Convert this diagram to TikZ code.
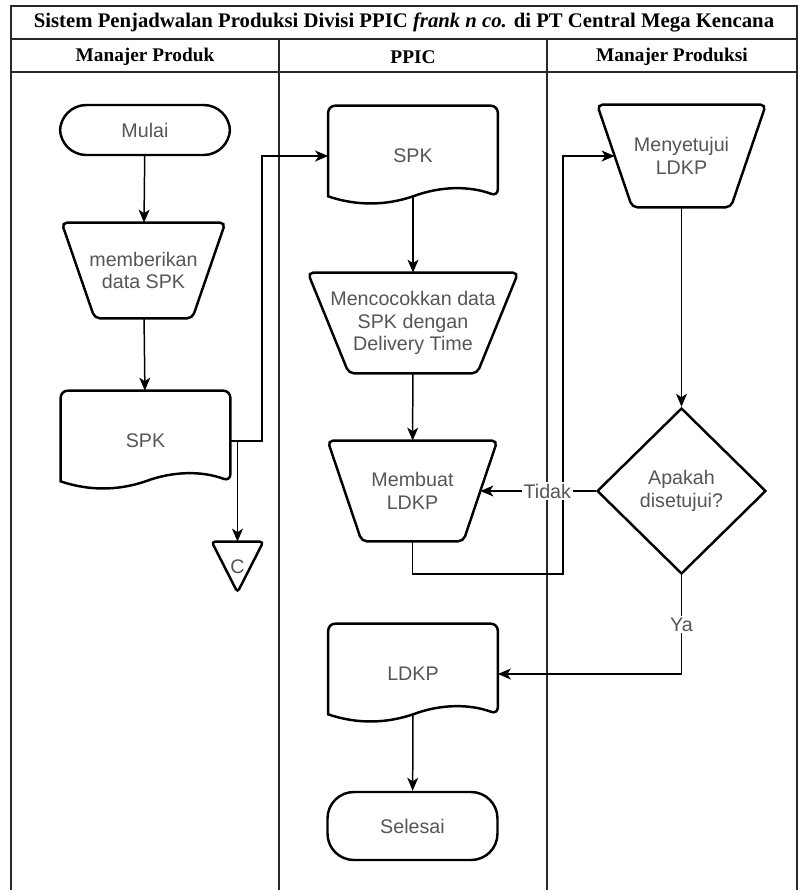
\documentclass[tikz,border=0pt]{standalone}
\usepackage{fontspec}
\setmainfont{Liberation Sans}
\newfontfamily\headfont{Liberation Serif}
\usetikzlibrary{arrows.meta,shapes.geometric,calc}

\definecolor{labelgray}{RGB}{85,85,85}
\definecolor{framegray}{RGB}{40,40,40}

\tikzset{
  lane/.style={draw=framegray, line width=0.8pt},
  headtext/.style={font=\headfont\bfseries\fontsize{11}{13}\selectfont, inner sep=0pt},
  bodytext/.style={text=labelgray, font=\fontsize{11.2}{12.8}\selectfont, align=center, inner sep=1pt},
  shapeline/.style={draw=black, line width=1.4pt},
  terminal/.style={bodytext, shapeline, rounded corners=15pt,
    minimum width=3.4cm, minimum height=1cm},
  manualop/.style={bodytext, minimum width=2.7cm, minimum height=2cm},
  docbox/.style={bodytext, minimum width=3.38cm, minimum height=2cm},
  decision/.style={bodytext, shapeline, diamond,
    minimum width=3.38cm, minimum height=3.32cm, inner sep=0pt},
  offpage/.style={bodytext, minimum width=1.02cm, minimum height=1cm},
  flow/.style={-{Stealth[length=7.4pt,width=6.2pt,inset=2pt]}, line width=0.85pt},
  branchlabel/.style={bodytext, fill=white, inner sep=1pt}
}

% manual operation: wide top, narrow bottom (#2 = half of the side slant)
\newcommand{\manualoutline}[2]{%
  \draw[shapeline, rounded corners=3pt]
    ([xshift=-#2]#1.north west) -- ([xshift=#2]#1.north east)
    -- ([xshift=-#2]#1.south east) -- ([xshift=#2]#1.south west) -- cycle;}
% document symbol: straight top and sides, wavy bottom
\newcommand{\docoutline}[1]{%
  \draw[shapeline, rounded corners=4pt]
    ([yshift=.2cm]#1.south west) -- (#1.north west) -- (#1.north east)
    -- ([yshift=.2cm]#1.south east) [sharp corners]
    .. controls +(-.56cm,.21cm) and +(.56cm,.21cm) .. ([yshift=.2cm]#1.south)
    .. controls +(-.56cm,-.19cm) and +(.56cm,-.19cm) .. ([yshift=.2cm]#1.south west)
    -- cycle;}
% off-page connector: triangle pointing down
\newcommand{\offpageoutline}[1]{%
  \draw[shapeline, rounded corners=2pt]
    (#1.north west) -- (#1.north east) -- (#1.south) -- cycle;}

\begin{document}
\begin{tikzpicture}[x=0.02cm, y=-0.02cm]
  \useasboundingbox (0,0) rectangle (804,890);

  % swimlane table
  \draw[lane] (11,890) -- (11,6) -- (797,6) -- (797,890);
  \draw[lane] (11,39) -- (797,39);
  \draw[lane] (11,72) -- (797,72);
  \draw[lane] (279,39) -- (279,890);
  \draw[lane] (547,39) -- (547,890);
  \node[headtext, font=\headfont\bfseries\fontsize{11.8}{13}\selectfont] (judul) at (404,22)
    {Sistem Penjadwalan Produksi Divisi PPIC \textit{frank n co.} di PT Central Mega Kencana};
  \node[headtext] (lanePM) at (145,57) {Manajer Produk};
  \node[headtext] (lanePPIC) at (413,57) {PPIC};
  \node[headtext] (lanePD) at (672,57) {Manajer Produksi};

  % Manajer Produk
  \node[terminal] (mulai) at (145,130) {Mulai};
  \node[manualop, minimum width=2.6cm, minimum height=1.9cm] (beri) at (143.5,270.5)
    {memberikan\\data SPK};
  \manualoutline{beri}{.33cm}
  \node[docbox] (spkA) at (145.5,441) {SPK};
  \docoutline{spkA}
  \node[offpage] (kon) at (237.5,567) {C};
  \offpageoutline{kon}

  % PPIC
  \node[docbox] (spkB) at (413,156) {SPK};
  \docoutline{spkB}
  \node[manualop, minimum width=3.18cm] (cocok) at (413,323)
    {Mencocokkan data\\SPK dengan\\Delivery Time};
  \manualoutline{cocok}{.41cm}
  \node[manualop] (buat) at (412.5,491) {Membuat\\LDKP};
  \manualoutline{buat}{.34cm}
  \node[docbox] (ldkp) at (413,674) {LDKP};
  \docoutline{ldkp}
  \node[terminal, minimum height=1.36cm] (selesai) at (412.5,826) {Selesai};

  % Manajer Produksi
  \node[manualop, minimum width=2.66cm, minimum height=2.04cm] (setuju) at (681.5,156)
    {Menyetujui\\LDKP};
  \manualoutline{setuju}{.35cm}
  \node[decision] (cek) at (681.5,491) {Apakah\\disetujui?};

  % connectors
  \coordinate (naikA) at (262,156);
  \coordinate (balikB) at (563,574);
  \coordinate (balikA) at (563,156);
  \draw[flow] (mulai) -- (beri);
  \draw[flow] (beri) -- (spkA);
  \draw[flow] (spkA.east) -| (naikA) -- (spkB.west);
  \draw[flow] (spkA.east) -| (kon.north);
  \draw[flow] ([yshift=.2cm]spkB.south) -- (cocok);
  \draw[flow] (cocok) -- (buat);
  \draw[flow] (buat) |- (balikB) -- (balikA) -- (setuju.west);
  \draw[flow] (setuju) -- (cek);
  \draw[flow] (cek.west) -- node[branchlabel, pos=.42] {Tidak} (buat.east);
  \draw[flow] (cek.south) |- node[branchlabel, pos=.25] {Ya} (ldkp.east);
  \draw[flow] ([yshift=.2cm]ldkp.south) -- (selesai);
\end{tikzpicture}
\end{document}
